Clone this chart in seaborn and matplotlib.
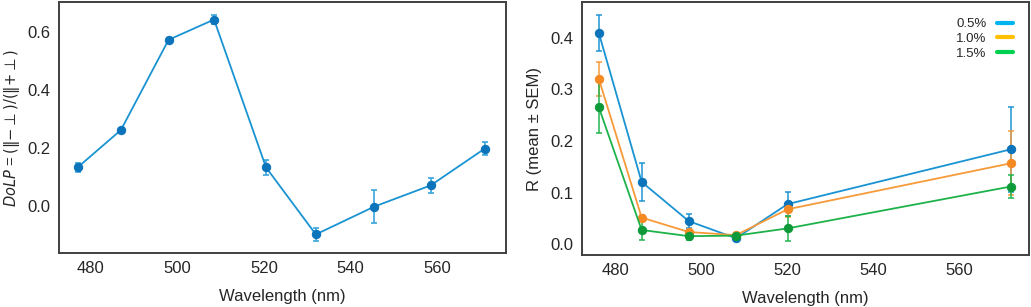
import numpy as np
import pandas as pd
import matplotlib
matplotlib.use("Agg")
import matplotlib.pyplot as plt
import seaborn as sns
from matplotlib.lines import Line2D

# painel esquerdo - DoLP
wl_dolp = [477, 487, 498, 508.5, 520.5, 532, 545.5, 558.5, 571]
dolp = [0.133, 0.262, 0.573, 0.643, 0.133, -0.098, -0.002, 0.071, 0.198]
dolp_err = [0.015, 0.008, 0.008, 0.015, 0.025, 0.022, 0.057, 0.025, 0.023]

# painel direito - R (media +- SEM)
wl_r = [476, 486, 497, 508, 520, 572]
conc = ["0.5%", "1.0%", "1.5%"]
r_05 = [0.410, 0.121, 0.045, 0.012, 0.078, 0.184]
r_10 = [0.321, 0.052, 0.024, 0.018, 0.068, 0.157]
r_15 = [0.266, 0.028, 0.016, 0.017, 0.031, 0.112]
e_05 = [0.035, 0.036, 0.013, 0.003, 0.023, 0.082]
e_10 = [0.033, 0.005, 0.004, 0.003, 0.015, 0.062]
e_15 = [0.050, 0.020, 0.007, 0.003, 0.024, 0.023]

line_cols = ["#1a93d2", "#f79a3a", "#1db34a"]
mark_cols = ["#0b74ba", "#f58a24", "#0f9a3a"]
leg_cols = ["#00b4f0", "#ffc000", "#00d050"]

sns.set_style("white")
plt.rcParams["font.family"] = ["Liberation Sans", "DejaVu Sans"]
plt.rcParams["mathtext.fontset"] = "dejavusans"

fig = plt.figure(figsize=(10.31, 3.07), dpi=100)
ax1 = fig.add_axes([0.0572, 0.176, 0.4336, 0.817])
ax2 = fig.add_axes([0.5645, 0.169, 0.4336, 0.824])

# --- esquerdo
df1 = pd.DataFrame({"wl": wl_dolp, "dolp": dolp})
ax1.errorbar(wl_dolp, dolp, yerr=dolp_err, fmt="none", ecolor="#3aa6dc",
             elinewidth=1.2, capsize=2, capthick=1.2, zorder=2)
sns.lineplot(data=df1, x="wl", y="dolp", ax=ax1, color=line_cols[0], lw=1.3,
             marker="o", markersize=6, markerfacecolor=mark_cols[0],
             markeredgecolor=mark_cols[0], zorder=3)
ax1.set_xlim(472.7, 575.9)
ax1.set_ylim(-0.162, 0.703)
ax1.set_xticks([480, 500, 520, 540, 560])
ax1.set_yticks([0.0, 0.2, 0.4, 0.6])
ax1.set_xlabel("Wavelength (nm)", fontsize=12, labelpad=9)
ax1.set_ylabel(r"$DoLP$ = $\mathrm{(\Vert{-}\bot)/(\Vert{+}\bot)}$",
               fontsize=10.5, labelpad=4)

# --- direito
rows = []
for c, vals in zip(conc, [r_05, r_10, r_15]):
    for w, v in zip(wl_r, vals):
        rows.append({"wl": w, "R": v, "conc": c})
df2 = pd.DataFrame(rows)

for i, (vals, errs) in enumerate(zip([r_05, r_10, r_15], [e_05, e_10, e_15])):
    ax2.errorbar(wl_r, vals, yerr=errs, fmt="none", ecolor=line_cols[i],
                 elinewidth=1.2, capsize=2, capthick=1.2, alpha=0.9, zorder=2 + i)
for i, c in enumerate(conc):
    sub = df2[df2["conc"] == c]
    sns.lineplot(data=sub, x="wl", y="R", ax=ax2, color=line_cols[i], lw=1.3,
                 marker="o", markersize=6, markerfacecolor=mark_cols[i],
                 markeredgecolor=mark_cols[i], zorder=5 + i)
ax2.set_xlim(472.1, 576.3)
ax2.set_ylim(-0.0207, 0.469)
ax2.set_xticks([480, 500, 520, 540, 560])
ax2.set_yticks([0.0, 0.1, 0.2, 0.3, 0.4])
ax2.set_xlabel("Wavelength (nm)", fontsize=12, labelpad=9)
ax2.set_ylabel("R (mean ± SEM)", fontsize=12, labelpad=6)

handles = [Line2D([0], [0], color=col, lw=3) for col in leg_cols]
ax2.legend(handles, conc, loc="upper right", frameon=False, markerfirst=False,
           fontsize=9.5, handlelength=1.2, handletextpad=0.8, labelspacing=0.2,
           borderaxespad=0.8)

for ax in (ax1, ax2):
    ax.tick_params(labelsize=12, length=0, pad=6)
    for s in ax.spines.values():
        s.set_color("#404040")
        s.set_linewidth(1.4)

fig.savefig("out.png", dpi=100)
